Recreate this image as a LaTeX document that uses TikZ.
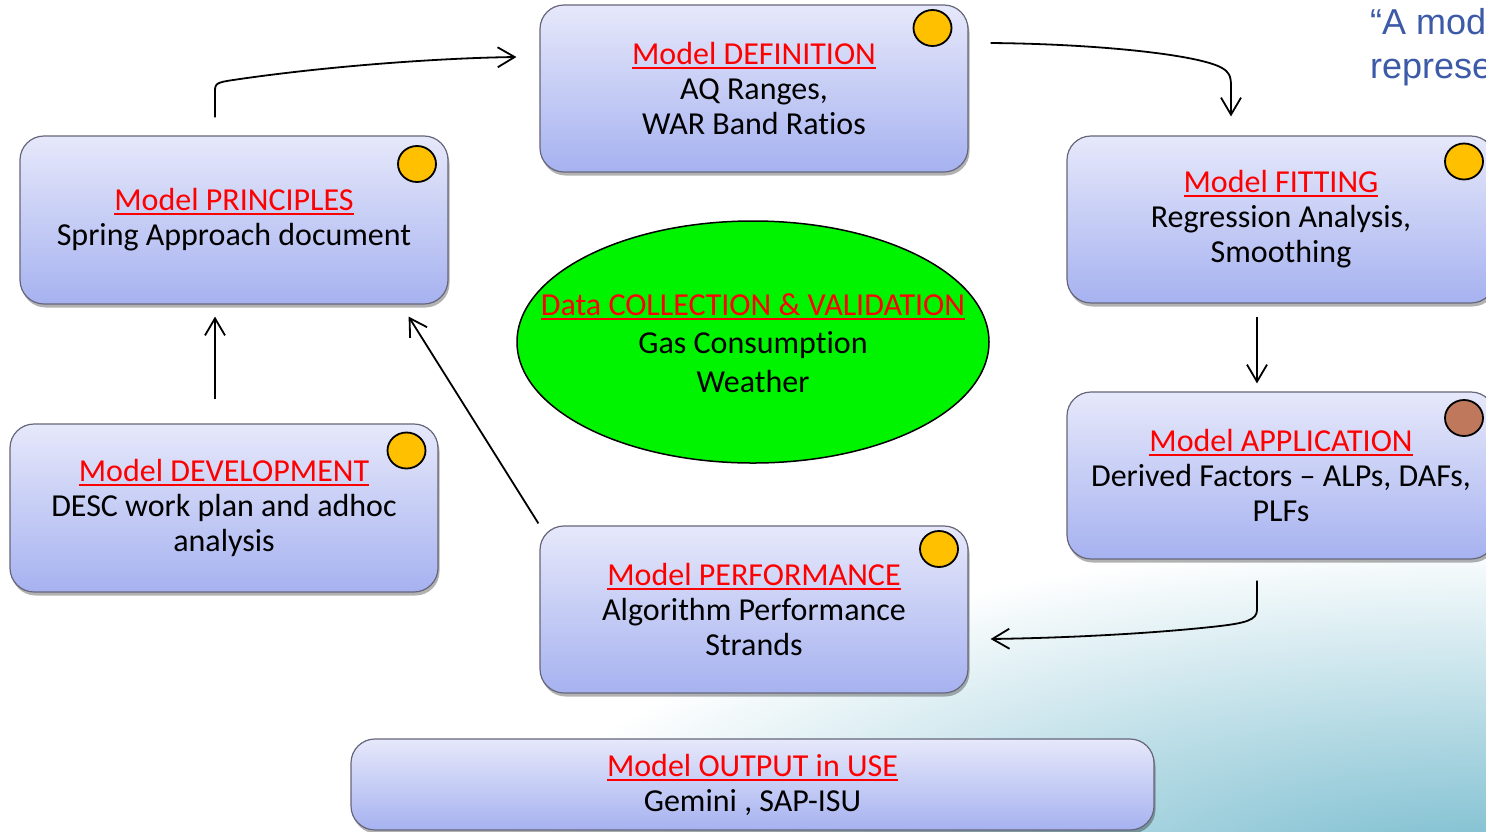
\documentclass[tikz,border=0pt]{standalone}
\usepackage{fontspec}
\setmainfont{Carlito}[Ligatures={TeX,NoCommon}]
\newfontfamily\arialf{Liberation Sans}
\usetikzlibrary{arrows.meta,shadows,calc,shapes.geometric}
\definecolor{boxtop}{HTML}{E6E8FA}
\definecolor{boxbot}{HTML}{A6B2F0}
\definecolor{boxline}{HTML}{66667A}
\definecolor{titlered}{HTML}{FF0000}
\definecolor{dotyellow}{HTML}{FFC000}
\definecolor{dotbrown}{HTML}{C0785C}
\definecolor{ellgreen}{HTML}{00F400}
\definecolor{quoteblue}{HTML}{3C5AA8}
\definecolor{bgcyan}{HTML}{6CB6CA}
\newcommand{\ttl}[1]{\textcolor{titlered}{\setbox0\hbox{#1}\rlap{\rule[-4.5pt]{\wd0}{2pt}}\box0}}
\tikzset{
  stagebox/.style={draw=boxline, line width=1.2pt, rounded corners=24pt,
    top color=boxtop, bottom color=boxbot, minimum width=428pt, minimum height=167pt,
    align=center, inner sep=0pt, font=\fontsize{32}{35}\selectfont,
    drop shadow={shadow xshift=1.5pt, shadow yshift=-3.5pt, opacity=0.3, fill=black}},
  dot/.style={ellipse, draw=black, line width=1.8pt, fill=dotyellow,
    minimum width=38pt, minimum height=36pt, inner sep=0pt},
  conn/.style={line width=1.8pt, -{Straight Barb[length=17pt,width=20pt]}},
  quote/.style={anchor=base west, inner sep=0pt, text=quoteblue,
    font=\arialf\fontsize{36}{43}\selectfont}
}
\begin{document}
\begin{tikzpicture}[x=1pt,y=-1pt]
\path[use as bounding box, clip] (0,0) rectangle (1486,831);
\fill[white] (0,0) rectangle (1486,831);
\shade[inner color=bgcyan, outer color=white] (1486,900) ellipse (1000 and 360);

\node[quote] (q1) at (1370,34) {“A mod};
\node[quote] (q2) at (1370,78) {represe};

\node[stagebox] (def) at (754,88.5) {\ttl{Model DEFINITION}\\AQ Ranges,\\WAR Band Ratios};
\node[stagebox, minimum height=168pt] (prin) at (234,220) {\ttl{Model PRINCIPLES}\\Spring Approach document};
\node[stagebox] (fit) at (1281,219.5) {\ttl{Model FITTING}\\Regression Analysis,\\Smoothing};
\node[stagebox] (app) at (1281,475.5) {\ttl{Model APPLICATION}\\Derived Factors – ALPs, DAFs,\\PLFs};
\node[stagebox, minimum height=168pt] (dev) at (224,508) {\ttl{Model DEVELOPMENT}\\DESC work plan and adhoc\\analysis};
\node[stagebox] (perf) at (754,609.5) {\ttl{Model PERFORMANCE}\\Algorithm Performance\\Strands};
\node[stagebox, minimum width=803pt, minimum height=91pt] (out) at (752.5,784.5) {\ttl{Model OUTPUT in USE}\\Gemini , SAP-ISU};

\node[ellipse, draw=black, line width=1.5pt, fill=ellgreen, minimum width=472pt, minimum height=242pt,
  inner sep=0pt] (data) at (753,342) {};
\node[align=center, inner sep=0pt, font=\fontsize{32}{38.5}\selectfont] (datatext) at ($(data.center)+(0,1)$)
  {\ttl{Data COLLECTION \& VALIDATION}\\Gas Consumption\\Weather};

\node[dot] (ddef) at (932.5,28) {};
\node[dot] (dprin) at (417,164) {};
\node[dot] (dfit) at (1464,161.5) {};
\node[dot, fill=dotbrown] (dapp) at (1464,418) {};
\node[dot] (ddev) at (406.5,450.5) {};
\node[dot] (dperf) at (939,549) {};

\draw[conn] ($(prin.north)+(-19,-18)$) -- (215,90) .. controls (215,82) and (220,82) .. (240,79)
  .. controls (330,66) and (440,58) .. ($(def.west)+(-23,-31.5)$);
\draw[conn] ($(def.east)+(22,-45.5)$) .. controls (1100,44) and (1200,55) .. (1222,68)
  .. controls (1229,72) and (1231,76) .. (1231,86) -- ($(fit.north)+(-50,-19)$);
\draw[conn] ($(fit.south)+(-24,13)$) -- ($(app.north)+(-24,-8)$);
\draw[conn] ($(app.south)+(-24,21)$) -- (1257,610) .. controls (1257,620) and (1245,623) .. (1220,626)
  .. controls (1150,634) and (1060,638) .. ($(perf.east)+(22,29.5)$);
\draw[conn] ($(perf.north west)+(-1,-2)$) -- ($(prin.south east)+(-40,12)$);
\draw[conn] ($(dev.north)+(-9,-24)$) -- ($(prin.south)+(-19,12)$);
\end{tikzpicture}
\end{document}
